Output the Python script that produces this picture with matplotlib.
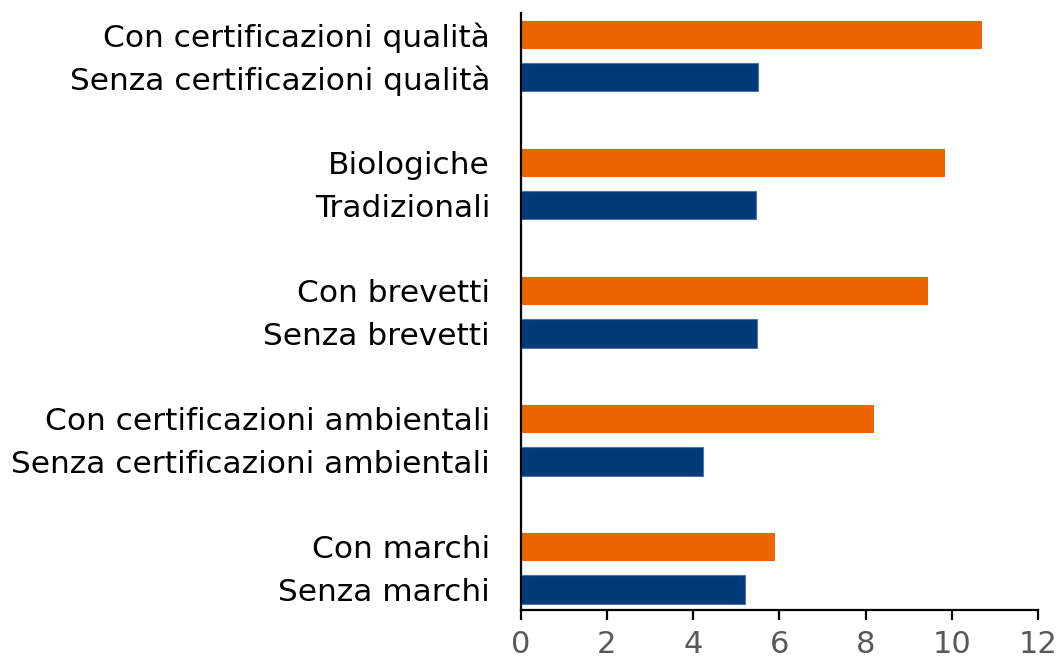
import matplotlib
matplotlib.use('Agg')
import matplotlib.pyplot as plt
import numpy as np

# ==========================================
# DATA
# ==========================================
labels = [
    "Con certificazioni qualità", "Senza certificazioni qualità",
    "Biologiche", "Tradizionali",
    "Con brevetti", "Senza brevetti",
    "Con certificazioni ambientali", "Senza certificazioni ambientali",
    "Con marchi", "Senza marchi",
]
values = [10.71, 5.51, 9.85, 5.46, 9.45, 5.49, 8.20, 4.23, 5.91, 5.21]
bar_colors = ["#EC6500", "#003A78"] * 5
x_ticks = [0, 2, 4, 6, 8, 10, 12]

# positions: pairs with a blank slot between groups
positions = []
for g in range(5):
    positions += [g * 3, g * 3 + 1]
positions = np.array(positions)

plt.rcParams['font.family'] = ['DejaVu Sans']

fig = plt.figure(figsize=(10.56, 6.66), dpi=100)
ax = fig.add_axes([0.493, 0.084, 0.490, 0.896])

ax.barh(positions, values, height=0.66, color=bar_colors,
        edgecolor=["none", "#4A78AE"] * 5, linewidth=0.8)

ax.set_ylim(13.48, -0.5)
ax.set_xlim(0, 12)
ax.set_xticks(x_ticks)
ax.set_xticklabels([str(t) for t in x_ticks], color="#595959", fontsize=22)
ax.set_yticks(positions)
ax.set_yticklabels(labels, fontsize=22.5, color="#000000")

ax.tick_params(axis='y', length=0, pad=22)
ax.tick_params(axis='x', direction='out', length=7, width=1.6, pad=7)

for side in ['top', 'right']:
    ax.spines[side].set_visible(False)
for side in ['left', 'bottom']:
    ax.spines[side].set_linewidth(1.6)

plt.savefig('out.png', dpi=100)
plt.close(fig)
